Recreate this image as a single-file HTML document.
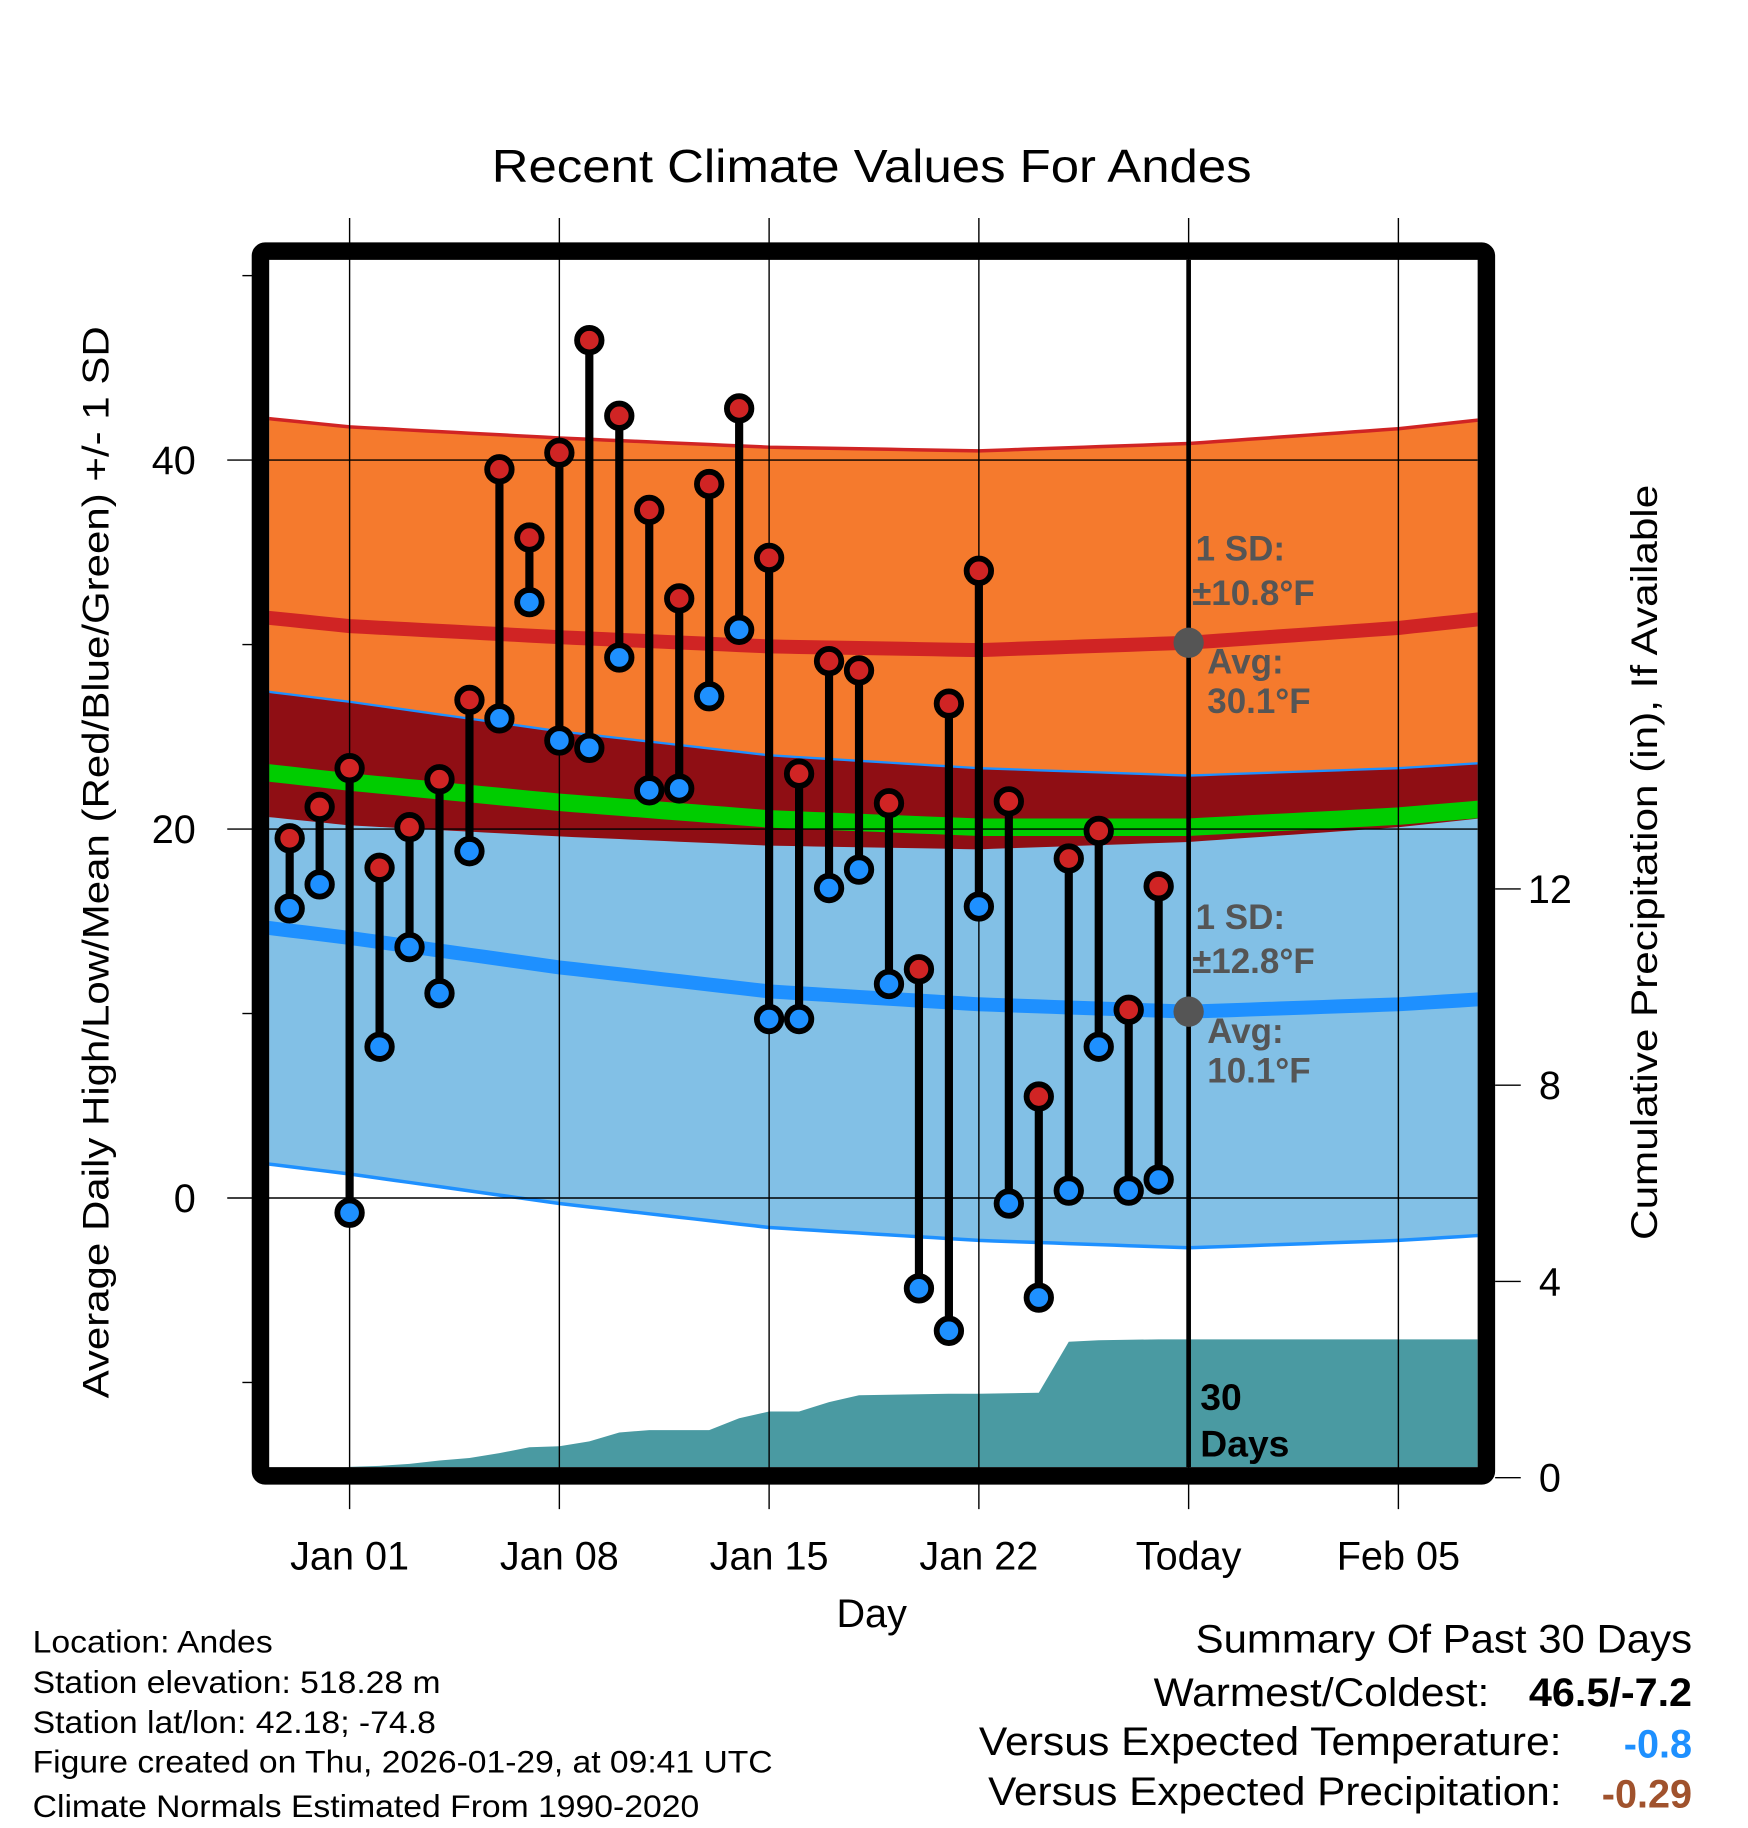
<!DOCTYPE html>
<html><head><meta charset="utf-8"><style>
html,body{margin:0;padding:0;background:#fff;}
svg{display:block;font-family:"Liberation Sans",sans-serif;}
</style></head><body>
<svg id="chart" width="1748" height="1828" viewBox="0 0 1500 1568.6" xmlns="http://www.w3.org/2000/svg">
<defs><clipPath id="plotclip"><rect x="231" y="223" width="1037" height="1036"/></clipPath></defs>
<g id="plot" clip-path="url(#plotclip)"></g>
<g id="overlay"></g>
<text x="748" y="156" font-size="40" text-anchor="middle" textLength="652" lengthAdjust="spacingAndGlyphs">Recent Climate Values For Andes</text>
<text transform="translate(93,740) rotate(-90)" font-size="32" text-anchor="middle" textLength="920" lengthAdjust="spacingAndGlyphs">Average Daily High/Low/Mean (Red/Blue/Green) +/- 1 SD</text>
<text transform="translate(1422,740) rotate(-90)" font-size="32" text-anchor="middle" textLength="648" lengthAdjust="spacingAndGlyphs">Cumulative Precipitation (in), If Available</text>
<text x="748" y="1396" font-size="34" text-anchor="middle">Day</text>
<g font-size="27">
<text x="28" y="1418" textLength="206" lengthAdjust="spacingAndGlyphs">Location: Andes</text>
<text x="28" y="1453" textLength="350" lengthAdjust="spacingAndGlyphs">Station elevation: 518.28 m</text>
<text x="28" y="1487" textLength="346" lengthAdjust="spacingAndGlyphs">Station lat/lon: 42.18; -74.8</text>
<text x="28" y="1521" textLength="635" lengthAdjust="spacingAndGlyphs">Figure created on Thu, 2026-01-29, at 09:41 UTC</text>
<text x="28" y="1559" textLength="572" lengthAdjust="spacingAndGlyphs">Climate Normals Estimated From 1990-2020</text>
</g>
<g font-size="34">
<text x="1452" y="1418" text-anchor="end" textLength="426" lengthAdjust="spacingAndGlyphs">Summary Of Past 30 Days</text>
<text x="1278" y="1464" text-anchor="end" textLength="288" lengthAdjust="spacingAndGlyphs">Warmest/Coldest:</text>
<text x="1452" y="1464" text-anchor="end" font-weight="bold" textLength="140" lengthAdjust="spacingAndGlyphs">46.5/-7.2</text>
<text x="1340" y="1506" text-anchor="end" textLength="500" lengthAdjust="spacingAndGlyphs">Versus Expected Temperature:</text>
<text x="1452" y="1508" text-anchor="end" font-weight="bold" fill="#1e90ff">-0.8</text>
<text x="1340" y="1549" text-anchor="end" textLength="492" lengthAdjust="spacingAndGlyphs">Versus Expected Precipitation:</text>
<text x="1452" y="1551" text-anchor="end" font-weight="bold" fill="#a0522d">-0.29</text>
</g>
</svg>
<script>
const obsDays = [-2,-1,0,1,2,3,4,5,6,7,8,9,10,11,12,13,14,15,16,17,18,19,20,21,22,23,24,25,26,27];
const highs = [19.5,21.2,23.3,17.9,20.1,22.7,27.0,39.5,35.8,40.4,46.5,42.4,37.3,32.5,38.7,42.8,34.7,23.0,29.1,28.6,21.4,12.4,26.8,34.0,21.5,5.5,18.4,19.9,10.2,16.9];
const lows = [15.7,17.0,-0.8,8.2,13.6,11.1,18.8,26.0,32.3,24.8,24.4,29.3,22.1,22.2,27.2,30.8,9.7,9.7,16.8,17.8,11.6,-4.9,-7.2,15.8,-0.3,-5.4,0.4,8.2,0.4,1.0];
const precip = [0.05,0.1,0.22,0.24,0.28,0.35,0.4,0.5,0.62,0.64,0.74,0.92,0.97,0.97,0.97,1.21,1.35,1.35,1.54,1.68,1.69,1.7,1.71,1.71,1.72,1.73,2.77,2.8,2.81,2.82];
const normDays = [-3,0,7,14,21,28,35,39];
const normHigh = [31.5,31.0,30.4,29.9,29.7,30.1,30.9,31.6];
const normLow = [14.7,14.1,12.5,11.2,10.5,10.1,10.5,10.9];
const sdHigh = 10.8, sdLow = 12.8;
const xTickDays = [0,7,14,21,28,35];
const xTickLabels = ["Jan 01","Jan 08","Jan 15","Jan 22","Today","Feb 05"];
const yTicks = [0,20,40];
const yMinorTicks = [-10,10,30,50];
const pTicks = [0,4,8,12];
const todayDay = 28;

const NS="http://www.w3.org/2000/svg";
const X = d => 300 + d*25.714;
const Y = t => 1028 - t*15.83;
const P = p => 1268 - p*42.1;
function mk(parent,tag,attrs){const e=document.createElementNS(NS,tag);for(const k in attrs)e.setAttribute(k,attrs[k]);parent.appendChild(e);return e;}
const plot=document.getElementById('plot'), ov=document.getElementById('overlay');
// interpolate normals
function interp(arr,d){for(let i=0;i<normDays.length-1;i++){if(d<=normDays[i+1]||i===normDays.length-2){const f=(d-normDays[i])/(normDays[i+1]-normDays[i]);return arr[i]+f*(arr[i+1]-arr[i]);}}}
const ds=[];for(let d=-3;d<=39.01;d+=0.5)ds.push(d);
const hi=ds.map(d=>interp(normHigh,d)), lo=ds.map(d=>interp(normLow,d));
function band(top,bot){let s='M'+ds.map((d,i)=>X(d)+','+Y(top[i])).join(' L');for(let i=ds.length-1;i>=0;i--)s+=' L'+X(ds[i])+','+Y(bot[i]);return s+'Z';}
function line(v){return 'M'+ds.map((d,i)=>X(d)+','+Y(v[i])).join(' L');}
let e;
e=mk(plot,'path',{d:band(hi.map(v=>v+sdHigh),hi.map(v=>v-sdHigh)),fill:'#f57a2d'});

e=mk(plot,'path',{d:band(lo.map(v=>v+sdLow),lo.map(v=>v-sdLow)),fill:'#82c0e6'});

const ovT=ds.map((d,i)=>Math.min(lo[i]+sdLow,hi[i]+sdHigh)), ovB=ds.map((d,i)=>Math.max(hi[i]-sdHigh,lo[i]-sdLow));
e=mk(plot,'path',{d:band(ovT,ovB.map((b,i)=>Math.min(b,ovT[i]))),fill:'#8f0e14'});

e=mk(plot,'path',{d:line(hi.map(v=>v+sdHigh)),stroke:'#d02424',fill:'none','stroke-width':3});

e=mk(plot,'path',{d:line(lo.map(v=>v+sdLow)),stroke:'#1e90ff',fill:'none','stroke-width':2});

e=mk(plot,'path',{d:line(lo.map(v=>v-sdLow)),stroke:'#1e90ff',fill:'none','stroke-width':3});

e=mk(plot,'path',{d:line(hi.map((v,i)=>(v+lo[i])/2)),stroke:'#00cc00',fill:'none','stroke-width':15});

e=mk(plot,'path',{d:line(hi),stroke:'#d02424',fill:'none','stroke-width':12});

e=mk(plot,'path',{d:line(lo),stroke:'#1e90ff',fill:'none','stroke-width':12});

// precipitation
let pd='M231,1268 L231,'+P(precip[0]);
obsDays.forEach((d,i)=>{pd+=' L'+X(d)+','+P(precip[i]);});
pd+=' L1268,'+P(precip[precip.length-1])+' L1268,1268Z';
e=mk(plot,'path',{d:pd,fill:'#4a9aa2'});

// grid
xTickDays.forEach((d,i)=>{
  e=mk(ov,'line',{x1:X(d),x2:X(d),y1:187,y2:1295,stroke:'#000','stroke-width':1.2});
  
  e=mk(ov,'text',{x:X(d),y:1347,'font-size':34,'text-anchor':'middle'});e.textContent=xTickLabels[i];
  
});
yTicks.forEach(t=>{
  e=mk(ov,'line',{x1:195,x2:1268,y1:Y(t),y2:Y(t),stroke:'#000','stroke-width':1.2});
  
  e=mk(ov,'text',{x:168,y:Y(t)+12,'font-size':34,'text-anchor':'end'});e.textContent=t;
  
});
yMinorTicks.forEach(t=>{
  e=mk(ov,'line',{x1:208,x2:218,y1:Y(t),y2:Y(t),stroke:'#000','stroke-width':1.2});
  
});
pTicks.forEach(p=>{
  e=mk(ov,'line',{x1:1283,x2:1305,y1:P(p),y2:P(p),stroke:'#000','stroke-width':1.2});
  
  e=mk(ov,'text',{x:1330,y:P(p)+12,'font-size':34,'text-anchor':'middle'});e.textContent=p;
  
});
// today line
e=mk(ov,'line',{x1:X(todayDay),x2:X(todayDay),y1:223,y2:1259,stroke:'#000','stroke-width':4});

// stems
obsDays.forEach((d,i)=>{
  const g=mk(ov,'g',{});
  
  
  mk(g,'line',{x1:X(d),x2:X(d),y1:Y(highs[i]),y2:Y(lows[i]),stroke:'#000','stroke-width':7});
  mk(g,'circle',{cx:X(d),cy:Y(highs[i]),r:10.5,fill:'#d02424',stroke:'#000','stroke-width':5});
  mk(g,'circle',{cx:X(d),cy:Y(lows[i]),r:10.5,fill:'#1e90ff',stroke:'#000','stroke-width':5});
});
// annotations
const tx=X(todayDay);
function txt(x,y,s,name,col,size){const t=mk(ov,'text',{x:x,y:y,'font-size':size||30,'font-weight':'bold',fill:col||'#555'});t.textContent=s;return t;}
txt(tx+6,481,'1 SD:','high-sd-label');
txt(tx+3,519,'±10.8°F','high-sd-value');
e=mk(ov,'circle',{cx:tx,cy:Y(normHigh[5]),r:13,fill:'#555'});
txt(tx+16,578,'Avg:','avg-high-label');
txt(tx+16,612,'30.1°F','avg-high-value');
txt(tx+6,797,'1 SD:','low-sd-label');
txt(tx+3,835,'±12.8°F','low-sd-value');
e=mk(ov,'circle',{cx:tx,cy:Y(normLow[5]),r:13,fill:'#555'});
txt(tx+16,895,'Avg:','avg-low-label');
txt(tx+16,929,'10.1°F','avg-low-value');
txt(tx+10,1210,'30','days-count','#000',32);
txt(tx+10,1250,'Days','days-label','#000',32);
// frame
e=mk(ov,'rect',{x:223.5,y:215.5,width:1052,height:1051,fill:'none',stroke:'#000','stroke-width':15,rx:4});

</script>
</body></html>
